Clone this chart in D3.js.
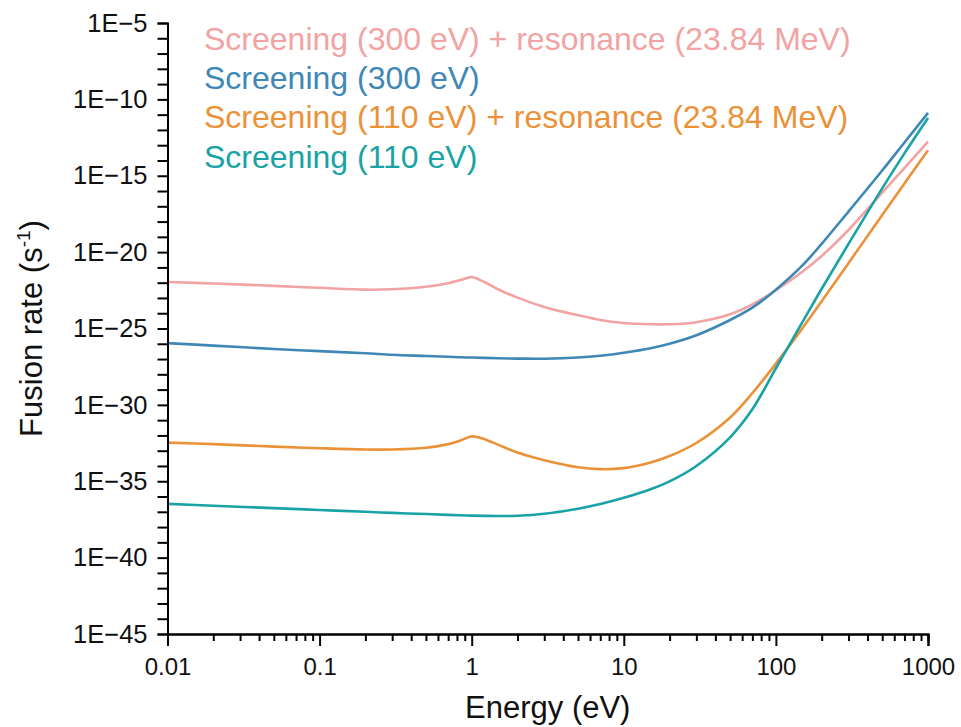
<!DOCTYPE html>
<html lang="en">
<head>
<meta charset="utf-8">
<title>Fusion rate vs energy</title>
<script src="https://cdn.jsdelivr.net/npm/d3@7"></script>
<style>
  body { margin: 0; background: #fff; }
  text { font-family: "Liberation Sans", Arial, sans-serif; }
</style>
</head>
<body>
<script>
// energies (eV) shared by all four curves
var energy = [0.01, 0.02, 0.05, 0.1, 0.2, 0.3, 0.5, 0.7, 0.85, 1, 1.2, 1.5, 2, 3, 5, 7, 10,
              15, 20, 30, 50, 70, 100, 150, 200, 300, 500, 700, 1000];

// fusion rate (1/s)
var scr300res = [1.1e-22, 8.9e-23, 6.2e-23, 4.6e-23, 3.5e-23, 3.7e-23, 5.4e-23, 9.3e-23, 1.5e-22, 2.3e-22,
                 1.15e-22, 3.6e-23, 1.05e-23, 2.6e-24, 7.4e-25, 3.6e-25, 2.3e-25,
                 1.9e-25, 1.9e-25, 2.6e-25, 8.5e-25, 3.8e-24, 3.2e-23, 5.4e-22, 5.6e-21, 2.8e-19, 7.9e-17, 3.2e-15, 1.7e-13];
var scr300 = [1.1e-26, 7.6e-27, 4.6e-27, 3.3e-27, 2.4e-27, 1.9e-27, 1.58e-27, 1.4e-27, 1.3e-27, 1.26e-27,
              1.2e-27, 1.12e-27, 1.07e-27, 1.05e-27, 1.26e-27, 1.66e-27, 2.6e-27,
              5.1e-27, 1.0e-26, 3.6e-26, 3.6e-25, 2.3e-24, 3.5e-23, 1.4e-21, 3.5e-20, 4.5e-18, 2.2e-15, 1.5e-13, 1.3e-11];
var scr110res = [3.4e-33, 2.7e-33, 1.86e-33, 1.45e-33, 1.2e-33, 1.2e-33, 1.55e-33, 2.7e-33, 4.8e-33, 8.7e-33,
                 5.9e-33, 2.4e-33, 7.6e-34, 2.4e-34, 8.3e-35, 6.2e-35, 7.2e-35,
                 1.7e-34, 4.5e-34, 3.2e-33, 1.5e-31, 5.8e-30, 5.0e-28, 1.1e-25, 6.0e-24, 1.9e-21, 2.7e-18, 3.1e-16, 4.6e-14];
var scr110 = [3.3e-37, 2.5e-37, 1.74e-37, 1.32e-37, 1.0e-37, 8.5e-38, 7.1e-38, 6.3e-38, 5.9e-38, 5.6e-38,
              5.4e-38, 5.3e-38, 5.5e-38, 7.4e-38, 1.58e-37, 3.2e-37, 8.2e-37,
              3.0e-36, 9.8e-36, 1.0e-34, 7.5e-33, 5.1e-31, 2.5e-28, 2.8e-25, 4.0e-23, 3.4e-20, 1.5e-16, 2.9e-14, 6.0e-12];

var seriesNames = ["Screening (300 eV) + resonance (23.84 MeV)", "Screening (300 eV)",
                   "Screening (110 eV) + resonance (23.84 MeV)", "Screening (110 eV)"];
var seriesColors = ["#f2a3a3", "#3f88b6", "#eb9239", "#19a3a6"];
var seriesValues = [scr300res, scr300, scr110res, scr110];

var xTickValues = [0.01, 0.1, 1, 10, 100, 1000];
var xTickLabels = ["0.01", "0.1", "1", "10", "100", "1000"];
var yTickValues = [1e-45, 1e-40, 1e-35, 1e-30, 1e-25, 1e-20, 1e-15, 1e-10, 1e-5];
var yTickLabels = ["1E\u221245", "1E\u221240", "1E\u221235", "1E\u221230", "1E\u221225",
                   "1E\u221220", "1E\u221215", "1E\u221210", "1E\u22125"];

var w = 961, h = 727;
var mLeft = 167.5, mRight = 928, mTop = 23, mBottom = 634;

var svg = d3.select("body").append("svg")
    .attr("width", w)
    .attr("height", h);

var x = d3.scaleLog().domain([0.01, 1000]).range([mLeft, mRight]);
var y = d3.scaleLog().domain([1e-45, 1e-5]).range([mBottom, mTop]);

// curves
var line = d3.line()
    .x(function(d){ return x(d[0]); })
    .y(function(d){ return y(d[1]); })
    .curve(d3.curveCatmullRom.alpha(0.5));

seriesValues.forEach(function(vals, k){
    var pts = energy.map(function(e, i){ return [e, vals[i]]; });
    svg.append("path")
        .attr("d", line(pts))
        .attr("fill", "none")
        .attr("stroke", seriesColors[k])
        .attr("stroke-width", 2.6);
});

// x axis: major ticks with labels, minor ticks 2..9
var xMinor = x.ticks().filter(function(t){ return xTickValues.indexOf(t) < 0; });
var xAxis = svg.append("g").attr("transform", "translate(0," + mBottom + ")");
xAxis.call(d3.axisBottom(x).tickValues(xMinor).tickSize(7).tickFormat(""));
xAxis.append("g").call(d3.axisBottom(x).tickValues(xTickValues).tickSize(12)
    .tickFormat(function(d, i){ return xTickLabels[i]; }));
xAxis.selectAll(".domain").attr("stroke-width", 2);
xAxis.selectAll(".tick line").attr("stroke", "#000").attr("stroke-width", 2);
xAxis.selectAll(".tick text")
    .attr("font-size", 24)
    .attr("font-family", "Liberation Sans, Arial, sans-serif")
    .attr("fill", "#111")
    .attr("dy", "1.1em");

// y axis: every decade ticked, labels every five decades
var yAll = d3.range(-45, -4).map(function(p){ return Math.pow(10, p); });
var yAxis = svg.append("g").attr("transform", "translate(" + mLeft + ",0)");
yAxis.call(d3.axisLeft(y).tickValues(yAll).tickSize(10).tickFormat(function(d){
    var idx = yTickValues.findIndex(function(v){ return Math.abs(Math.log10(v) - Math.log10(d)) < 1e-6; });
    return idx >= 0 ? yTickLabels[idx] : "";
}));
yAxis.select(".domain").attr("stroke-width", 2);
yAxis.selectAll(".tick line").attr("stroke", "#000").attr("stroke-width", 2);
yAxis.selectAll(".tick text")
    .attr("font-size", 25.5)
    .attr("font-family", "Liberation Sans, Arial, sans-serif")
    .attr("fill", "#111")
    .attr("x", -20);

// axis titles
svg.append("text")
    .attr("x", (mLeft + mRight) / 2)
    .attr("y", 718)
    .attr("text-anchor", "middle")
    .attr("font-size", 31)
    .attr("fill", "#111")
    .text("Energy (eV)");

var yt = svg.append("text")
    .attr("transform", "translate(42," + ((mTop + mBottom) / 2) + ") rotate(-90)")
    .attr("text-anchor", "middle")
    .attr("font-size", 31)
    .attr("fill", "#111");
yt.append("tspan").text("Fusion rate (s");
yt.append("tspan").attr("font-size", 19).attr("dy", -12).text("-1");
yt.append("tspan").attr("dy", 12).text(")");

// legend (text only, coloured like the curves)
svg.selectAll("text.legend")
    .data(seriesNames)
    .enter()
    .append("text")
    .attr("class", "legend")
    .attr("x", 204)
    .attr("y", function(d, i){ return 50 + i * 39.2; })
    .attr("font-size", 32)
    .attr("fill", function(d, i){ return seriesColors[i]; })
    .text(function(d){ return d; });
</script>
</body>
</html>
